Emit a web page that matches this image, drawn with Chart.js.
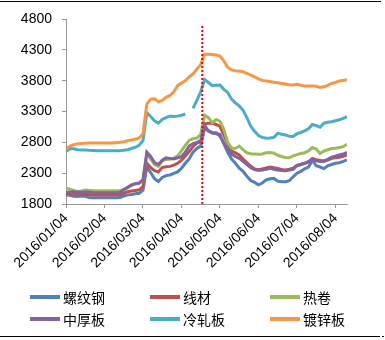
<!DOCTYPE html>
<html><head><meta charset="utf-8">
<script src="https://cdn.jsdelivr.net/npm/chart.js@4"></script>
<style>
html,body{margin:0;padding:0;background:#fff;}
#wrap{position:relative;width:385px;height:340px;overflow:hidden;}
#c{position:absolute;left:0;top:0;}
.hl{position:absolute;left:0;width:381px;height:1px;background:#000;}
#legend{position:absolute;left:0;top:0;width:385px;height:340px;pointer-events:none;font-family:"Noto Sans CJK SC";font-size:14px;color:#000;}
.li{position:absolute;height:20px;line-height:20px;}
.li span.s{position:absolute;left:0;top:8px;width:30px;height:4px;}
.li span.t{position:absolute;left:33px;top:0;white-space:nowrap;}
</style></head>
<body><div id="wrap"><canvas id="c" width="385" height="290"></canvas>
<div class="hl" style="top:1px"></div><div class="hl" style="top:336px;width:380px"></div>
<div style="position:absolute;left:382px;top:336px;width:2px;height:1px;background:#000"></div>
<div id="legend"></div></div>
<script>
const tickLabels = ["2016/01/04","2016/02/04","2016/03/04","2016/04/04","2016/05/04","2016/06/04","2016/07/04","2016/08/04"];
const seriesNames = ["螺纹钢","线材","热卷","中厚板","冷轧板","镀锌板"];
const seriesColors = ["#4F81BD","#C0504D","#9BBB59","#8064A2","#4BACC6","#F79646"];
const luowengang = [1945,1940,1925,1920,1930,1925,1905,1903,1903,1903,1903,1903,1903,1903,1905,1930,1948,1955,1965,1975,2025,2400,2310,2210,2165,2230,2260,2270,2295,2320,2380,2460,2530,2640,2700,2740,3030,2990,2950,2940,2930,2780,2640,2530,2460,2380,2330,2250,2180,2150,2110,2140,2190,2210,2215,2170,2160,2160,2180,2240,2300,2330,2370,2400,2510,2420,2400,2375,2420,2440,2460,2470,2490,2515];
const xiancai = [1965,1975,1970,1955,1958,1960,1950,1946,1946,1946,1946,1946,1946,1946,1950,1975,2000,2010,2020,2030,2080,2460,2390,2340,2320,2390,2405,2410,2430,2460,2510,2580,2650,2730,2790,2810,3100,3110,3110,3090,3060,2920,2780,2660,2630,2595,2530,2470,2410,2370,2355,2370,2385,2400,2390,2375,2360,2352,2365,2380,2425,2440,2460,2480,2540,2520,2505,2490,2510,2540,2550,2557,2575,2595];
const rejuan = [2055,2040,2020,2000,2010,2025,2020,2015,2015,2015,2015,2015,2015,2015,2015,2035,2060,2100,2125,2135,2185,2610,2530,2440,2410,2500,2520,2525,2545,2580,2660,2750,2830,2860,2870,2930,3240,3200,3120,3170,3140,3010,2800,2710,2700,2740,2680,2630,2615,2610,2605,2610,2630,2635,2625,2590,2570,2555,2550,2580,2600,2620,2630,2660,2715,2690,2620,2660,2680,2700,2705,2715,2730,2770];
const zhonghouban = [1985,1995,2000,1995,1990,1995,1990,1985,1984,1984,1984,1984,1984,1984,1990,2030,2070,2110,2130,2140,2190,2640,2570,2470,2440,2510,2550,2540,2530,2550,2565,2640,2740,2780,2800,2830,3080,2980,2960,2955,2900,2790,2690,2610,2570,2540,2490,2440,2390,2360,2345,2352,2365,2378,2365,2352,2345,2341,2350,2362,2425,2440,2460,2490,2525,2500,2490,2500,2525,2560,2575,2595,2610,2635];
const lengzhaban = [2650,2700,2695,2680,2675,2675,2670,2668,2665,2665,2665,2665,2665,2665,2665,2670,2680,2700,2720,2750,2830,3280,3220,3150,3110,3170,3200,3225,3220,3225,3240,3260,null,3350,3480,3620,3820,3770,3720,3725,3730,3660,3610,3500,3440,3390,3320,3200,3060,2980,2910,2880,2865,2870,2880,2945,2930,2920,2900,2895,2940,2960,2985,3020,3090,3070,3045,3110,3125,3135,3150,3165,3190,3215];
const duxinban = [2690,2740,2760,2775,2780,2785,2790,2790,2790,2790,2790,2790,2790,2795,2800,2810,2825,2840,2850,2870,2940,3420,3500,3505,3460,3480,3530,3560,3620,3720,3760,3800,3860,3910,3990,4060,4230,4230,4225,4215,4200,4120,4020,3975,3960,3955,3945,3920,3890,3860,3830,3805,3795,3785,3775,3765,3755,3745,3735,3730,3740,3725,3715,3715,3712,3710,3690,3700,3725,3755,3770,3795,3805,3815];
const markerX = [35.4, 35.4];
const markerY = [1800, 4720];
const allSeries = [luowengang, xiancai, rejuan, zhonghouban, lengzhaban, duxinban];

const datasets = allSeries.map((arr, k) => ({
  label: seriesNames[k],
  data: arr.map((v, i) => ({x: i, y: v})),
  borderColor: seriesColors[k],
  backgroundColor: seriesColors[k],
  borderWidth: 3,
  pointRadius: 0,
  tension: 0,
  spanGaps: false,
  order: 10 - k
}));
datasets.push({
  label: 'marker',
  data: markerX.map((x, i) => ({x: x, y: markerY[i]})),
  borderColor: '#FF0000',
  borderWidth: 2,
  borderDash: [2, 2],
  pointRadius: 0,
  order: 0
});

new Chart(document.getElementById('c'), {
  type: 'line',
  data: {datasets},
  options: {
    responsive: false,
    animation: false,
    events: [],
    layout: {padding: {left: 0, right: 38, top: 19, bottom: 0}},
    plugins: {legend: {display: false}, tooltip: {enabled: false}},
    scales: {
      x: {
        type: 'linear', min: 0, max: 73,
        afterFit: s => { s.height = 86; },
        grid: {display: true, drawOnChartArea: false, drawTicks: true, tickLength: 4, color: '#999', lineWidth: 1},
        border: {display: true, color: '#999', width: 1},
        ticks: {
          stepSize: 10, includeBounds: false, autoSkip: false,
          minRotation: 45, maxRotation: 45, padding: 2,
          color: '#000', font: {family: 'Liberation Sans', size: 14},
          callback: v => tickLabels[Math.round(v / 10)] || ''
        }
      },
      y: {
        min: 1800, max: 4800,
        afterFit: s => { s.width = 66; },
        grid: {display: true, drawOnChartArea: false, drawTicks: true, tickLength: 4, color: '#999'},
        border: {display: true, color: '#999', width: 1},
        ticks: {stepSize: 500, padding: 10, color: '#000', font: {family: 'Liberation Sans', size: 14},
          callback: v => String(v)}
      }
    }
  }
});

const legendPos = [[30,287],[150,287],[270,287],[30,309],[150,309],[270,309]];
const lg = document.getElementById('legend');
seriesNames.forEach((n, k) => {
  const d = document.createElement('div');
  d.className = 'li';
  d.style.left = legendPos[k][0] + 'px';
  d.style.top = legendPos[k][1] + 'px';
  d.innerHTML = '<span class="s" style="background:' + seriesColors[k] + '"></span><span class="t">' + n + '</span>';
  lg.appendChild(d);
});
</script></body></html>
